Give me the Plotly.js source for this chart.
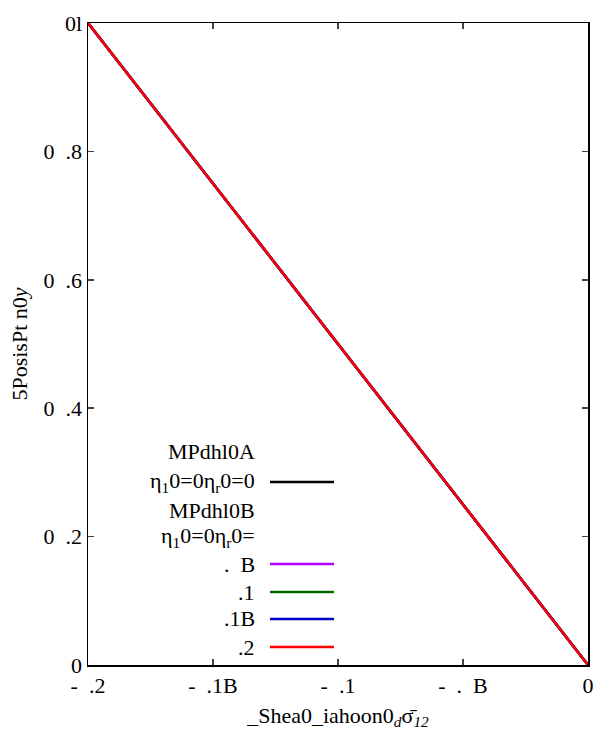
<!DOCTYPE html>
<html>
<head>
<meta charset="utf-8">
<script src="https://cdn.plot.ly/plotly-3.0.1.min.js"></script>
<style>html,body{margin:0;padding:0;background:#fff;}#chart{width:594px;height:736px;}</style>
</head>
<body>
<div id="chart"></div>
<script>
// Data
const shearStrain = [-0.2, -0.15, -0.1, -0.05, 0];
const seriesA = [1, 0.75, 0.5, 0.25, 0];
const seriesB005 = [1, 0.75, 0.5, 0.25, 0];
const seriesB010 = [1, 0.75, 0.5, 0.25, 0];
const seriesB015 = [1, 0.75, 0.5, 0.25, 0];
const seriesB020 = [1, 0.75, 0.5, 0.25, 0];
const seriesNames = ['η<sub>1</sub>0=0η<sub>r</sub>0=0', '.\u00a0\u00a0B', '.1', '.1B', '.2'];
const seriesColors = ['#000000', '#b400ff', '#006a00', '#0000c8', '#ff0000'];
const legendHeaders = ['MPdhl0A', 'MPdhl0B', 'η<sub>1</sub>0=0η<sub>r</sub>0='];
const xTickVals = [-0.2, -0.15, -0.1, -0.05, 0];
const xTickText = ['-\u00a0\u00a0.2', '-\u00a0\u00a0.1B', '-\u00a0\u00a0.1', '-\u00a0\u00a0.\u00a0\u00a0B', '0'];
const yTickVals = [0, 0.2, 0.4, 0.6, 0.8, 1];
const yTickText = ['0', '0\u00a0\u00a0.2', '0\u00a0\u00a0.4', '0\u00a0\u00a0.6', '0\u00a0\u00a0.8', '0l'];

const allSeries = [seriesA, seriesB005, seriesB010, seriesB015, seriesB020];
const font = 'Liberation Serif';

const traces = allSeries.map((ys, i) => ({
  x: shearStrain, y: ys, type: 'scatter', mode: 'lines',
  name: seriesNames[i], line: {color: seriesColors[i], width: 2.5},
  showlegend: false, hoverinfo: 'none'
}));

// legend rows (paper coords)
const rowY = [0.3318, 0.285, 0.2414, 0.1994, 0.1573, 0.1137, 0.0717, 0.028];
const rowText = [legendHeaders[0], seriesNames[0], legendHeaders[1], legendHeaders[2], seriesNames[1], seriesNames[2], seriesNames[3], seriesNames[4]];
const rowColor = [null, seriesColors[0], null, null, seriesColors[1], seriesColors[2], seriesColors[3], seriesColors[4]];
const annotations = rowText.map((t, i) => ({
  xref: 'paper', yref: 'paper', x: 0.338, y: rowY[i], xanchor: 'right', yanchor: 'middle',
  text: t, showarrow: false, font: {family: font, size: 22, color: '#000'}
}));
const shapes = [];
rowColor.forEach((c, i) => {
  if (c) shapes.push({type: 'line', xref: 'paper', yref: 'paper', x0: 0.364, x1: 0.492, y0: rowY[i], y1: rowY[i], line: {color: c, width: 2.5}});
});

const layout = {
  width: 594, height: 736,
  margin: {l: 88, r: 6, t: 23, b: 71},
  paper_bgcolor: '#fff', plot_bgcolor: '#fff',
  font: {family: font, size: 22, color: '#000'},
  showlegend: false,
  xaxis: {
    range: [-0.2, 0], tickvals: xTickVals, ticktext: xTickText,
    ticks: 'inside', ticklen: 6, tickwidth: 1.5, tickcolor: '#444',
    showline: true, linecolor: '#000', linewidth: 1.5, mirror: 'ticks',
    showgrid: false, zeroline: false,
    tickfont: {family: font, size: 22, color: '#000'},
    title: {text: '_Shea0_iahoon0<sub><i>d</i></sub>σ̄<sub><i>12</i></sub>', font: {family: font, size: 22, color: '#000'}, standoff: 10}
  },
  yaxis: {
    range: [0, 1], tickvals: yTickVals, ticktext: yTickText,
    ticks: 'inside', ticklen: 6, tickwidth: 1.5, tickcolor: '#444',
    showline: true, linecolor: '#000', linewidth: 1.5, mirror: 'ticks',
    showgrid: false, zeroline: false,
    tickfont: {family: font, size: 22, color: '#000'},
    title: {text: '5PosisPt n0<i>y</i>', font: {family: font, size: 22, color: '#000'}, standoff: 10}
  },
  annotations: annotations,
  shapes: shapes
};

Plotly.newPlot('chart', traces, layout, {displayModeBar: false, staticPlot: true});
</script>
</body>
</html>
